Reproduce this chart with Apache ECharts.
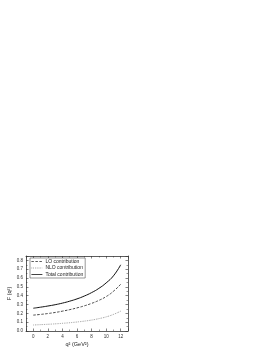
<!DOCTYPE html>
<html>
<head>
<meta charset="utf-8">
<script src="https://cdn.jsdelivr.net/npm/echarts@6/dist/echarts.min.js"></script>
<style>
html,body{margin:0;padding:0;background:#fff;}
#chart{width:274px;height:354px;}
</style>
</head>
<body>
<div id="chart"></div>
<script>
var q2 = [0,1,2,3,4,5,6,7,8,9,10,11,12];
var loValues = [0.180,0.188,0.198,0.210,0.225,0.242,0.262,0.285,0.313,0.347,0.390,0.450,0.530];
var nloValues = [0.068,0.072,0.076,0.081,0.087,0.094,0.102,0.112,0.124,0.140,0.160,0.188,0.225];
var totalValues = [0.258,0.270,0.283,0.298,0.316,0.338,0.364,0.396,0.435,0.483,0.545,0.625,0.750];
var seriesNames = ['LO contribution','NLO contribution','Total contribution'];

function pairs(xs, ys){ return xs.map(function(x,i){return [x, ys[i]];}); }

var font = 'Liberation Sans';
var chart = echarts.init(document.getElementById('chart'), null, {renderer:'canvas'});
var axisLine = {show:true, onZero:false, lineStyle:{color:'#333', width:0.8}};
var tickIn = {show:true, inside:true, length:2.5, lineStyle:{color:'#333', width:0.6}};
var minorIn = {show:true, splitNumber:2, length:1.5, lineStyle:{color:'#333', width:0.5}};
chart.setOption({
  animation:false,
  backgroundColor:'#fff',
  grid:{left:26, right:146, top:256, bottom:23},
  legend:{
    orient:'vertical', left:30, top:258,
    data:seriesNames,
    itemWidth:11, itemHeight:1, itemGap:1.5,
    itemStyle:{opacity:0},
    lineStyle:{width:0.8},
    padding:[1,2,1,1],
    borderColor:'#333', borderWidth:0.5, backgroundColor:'#fff',
    textStyle:{fontFamily:font, fontSize:5, color:'#222', padding:[0,0,0,-2]}
  },
  xAxis:[{
    type:'value', min:-1, max:13, splitNumber:7,
    position:'bottom',
    name:'q\u00B2 (GeV\u00B2)', nameLocation:'middle', nameGap:10,
    nameTextStyle:{fontFamily:font, fontSize:5.5, color:'#222'},
    axisLine:axisLine, axisTick:tickIn, minorTick:minorIn,
    splitLine:{show:false},
    axisLabel:{fontFamily:font, fontSize:4.5, color:'#333', margin:3,
      formatter:function(v){ return (v>=0 && v<=12 && v%2===0) ? String(v) : ''; }}
  },{
    type:'value', min:-1, max:13, splitNumber:7,
    position:'top',
    axisLine:axisLine, axisTick:tickIn, minorTick:minorIn,
    splitLine:{show:false}, axisLabel:{show:false}
  }],
  yAxis:[{
    type:'value', min:0, max:0.85, interval:0.1,
    position:'left',
    name:'F (q\u00B2)', nameLocation:'middle', nameGap:11, nameRotate:90,
    nameTextStyle:{fontFamily:font, fontSize:5.5, color:'#222'},
    axisLine:axisLine, axisTick:tickIn, minorTick:minorIn,
    splitLine:{show:false},
    axisLabel:{fontFamily:font, fontSize:4.5, color:'#333', margin:3,
      formatter:function(v){ return v<=0.8001 ? v.toFixed(1) : ''; }}
  },{
    type:'value', min:0, max:0.85, interval:0.1,
    position:'right',
    axisLine:axisLine, axisTick:tickIn, minorTick:minorIn,
    splitLine:{show:false}, axisLabel:{show:false}
  }],
  series:[
    {name:seriesNames[0], type:'line', smooth:true, symbol:'none', data:pairs(q2, loValues),
     lineStyle:{color:'#333', width:0.9, type:[2.5,1.5]}, itemStyle:{color:'#333'}},
    {name:seriesNames[1], type:'line', smooth:true, symbol:'none', data:pairs(q2, nloValues),
     lineStyle:{color:'#777', width:0.8, type:[0.8,1]}, itemStyle:{color:'#777'}},
    {name:seriesNames[2], type:'line', smooth:true, symbol:'none', data:pairs(q2, totalValues),
     lineStyle:{color:'#111', width:1}, itemStyle:{color:'#111'}}
  ]
});
</script>
</body>
</html>
